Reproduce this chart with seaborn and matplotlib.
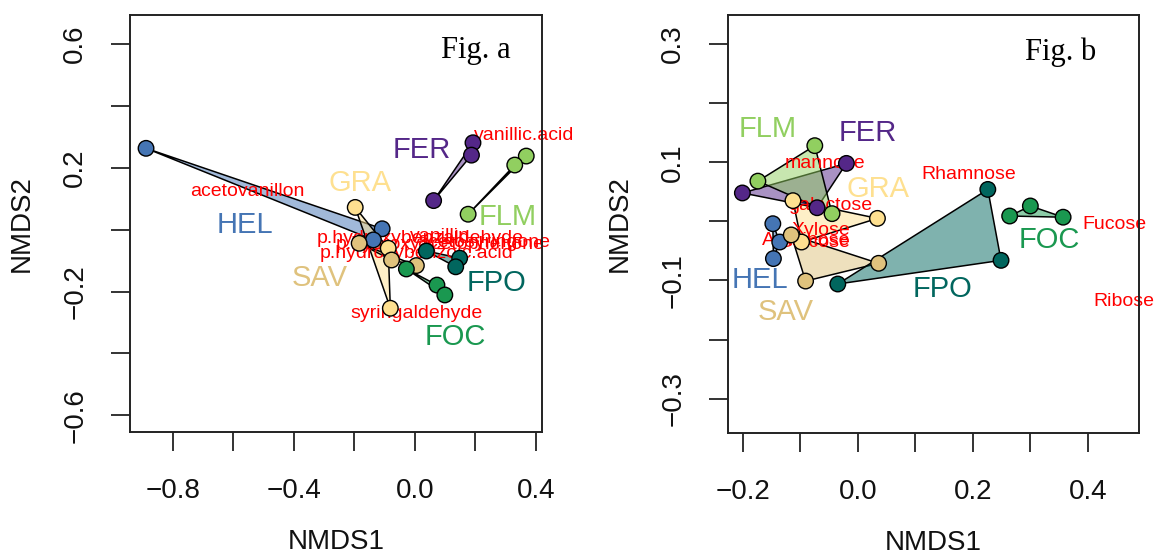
import matplotlib
matplotlib.use('Agg')
import matplotlib.pyplot as plt
import matplotlib.colors as mcolors
import pandas as pd
import seaborn as sns

# group colours
palette = {'HEL': '#4575B4', 'GRA': '#FEE090', 'SAV': '#DFC27D', 'FER': '#542788',
           'FLM': '#91CF60', 'FPO': '#01665E', 'FOC': '#1A9850'}

# Fig. a - site scores (3 per group)
a_group = ['HEL'] * 3 + ['GRA'] * 3 + ['SAV'] * 3 + ['FER'] * 3 + ['FLM'] * 3 + ['FPO'] * 3 + ['FOC'] * 3
a_x = [-0.888, -0.108, -0.137,
       -0.197, -0.088, -0.081,
       -0.184, -0.077, 0.005,
       0.192, 0.187, 0.062,
       0.368, 0.330, 0.176,
       0.038, 0.148, 0.135,
       -0.028, 0.073, 0.099]
a_y = [0.263, 0.003, -0.033,
       0.072, -0.060, -0.254,
       -0.044, -0.098, -0.116,
       0.281, 0.241, 0.094,
       0.238, 0.209, 0.050,
       -0.069, -0.092, -0.120,
       -0.127, -0.179, -0.211]

# Fig. a - group label positions
a_lab = ['FER', 'GRA', 'HEL', 'FLM', 'SAV', 'FPO', 'FOC']
a_lab_x = [0.022, -0.182, -0.561, 0.308, -0.314, 0.269, 0.132]
a_lab_y = [0.258, 0.150, 0.015, 0.042, -0.157, -0.173, -0.346]

# Fig. a - compound labels
a_var = ['vanillic.acid', 'acetovanillon', 'syringaldehyde', 'p.hydroxybenzaldehyde',
         'vanillin', 'p.hydroxyacetophenone', 'acetosyringone', 'p.hydroxybenzoic.acid']
a_var_x = [0.361, -0.555, 0.007, 0.017, 0.083, 0.083, 0.228, 0.005]
a_var_y = [0.306, 0.125, -0.270, -0.028, -0.022, -0.049, -0.043, -0.076]

# Fig. b - site scores
b_group = a_group
b_x = [-0.148, -0.136, -0.147,
       -0.113, 0.034, -0.098,
       -0.116, 0.036, -0.091,
       -0.020, -0.201, -0.071,
       -0.075, -0.174, -0.045,
       0.226, 0.249, -0.035,
       0.264, 0.300, 0.357]
b_y = [-0.004, -0.035, -0.063,
       0.035, 0.005, -0.035,
       -0.023, -0.071, -0.101,
       0.098, 0.048, 0.023,
       0.128, 0.068, 0.013,
       0.054, -0.066, -0.106,
       0.009, 0.026, 0.007]

b_lab = ['FLM', 'FER', 'GRA', 'HEL', 'SAV', 'FPO', 'FOC']
b_lab_x = [-0.157, 0.017, 0.035, -0.171, -0.125, 0.148, 0.333]
b_lab_y = [0.157, 0.149, 0.054, -0.100, -0.153, -0.114, -0.032]

b_var = ['mannose', 'Rhamnose', 'galactose', 'Xylose', 'Arabinose', 'Glucose', 'Fucose', 'Ribose']
b_var_x = [-0.058, 0.193, -0.049, -0.064, -0.090, -0.076, 0.446, 0.462]
b_var_y = [0.098, 0.080, 0.026, -0.016, -0.032, -0.035, -0.005, -0.135]

sns.set_style('ticks')
plt.rcParams['font.family'] = ['Liberation Sans', 'DejaVu Sans']


def draw_panel(ax, groups, xs, ys, labs, lab_x, lab_y, vars_, var_x, var_y,
               xlim, ylim, xticks, xticklabels, yticks, yticklabels, tag, tag_pos):
    df = pd.DataFrame({'group': groups, 'x': xs, 'y': ys})

    # hulls
    for g, sub in df.groupby('group', sort=False):
        ax.fill(sub['x'], sub['y'], facecolor=mcolors.to_rgba(palette[g], 0.5),
                edgecolor='black', linewidth=1.1, zorder=1)

    # compound labels
    for t, x, y in zip(vars_, var_x, var_y):
        ax.text(x, y, t, color='red', fontsize=14, ha='center', va='center',
                zorder=2, clip_on=False)

    sns.scatterplot(data=df, x='x', y='y', hue='group', palette=palette, s=125,
                    edgecolor='black', linewidth=1.0, legend=False, ax=ax, zorder=3)

    for t, x, y in zip(labs, lab_x, lab_y):
        ax.text(x, y, t, color=palette[t], fontsize=21, ha='center', va='center', zorder=4)

    ax.set_xlim(xlim)
    ax.set_ylim(ylim)
    ax.set_xticks(xticks)
    ax.set_xticklabels(xticklabels)
    ax.set_yticks(yticks)
    ax.set_yticklabels(yticklabels, rotation=90, va='center')
    ax.tick_params(axis='both', direction='out', length=14, width=1.4,
                   labelsize=20, color='#333333', labelcolor='#111111')
    ax.tick_params(axis='x', pad=19)
    ax.tick_params(axis='y', pad=16)
    for s in ax.spines.values():
        s.set_visible(True)
        s.set_linewidth(1.4)
        s.set_color('#222222')

    ax.set_xlabel('NMDS1', fontsize=20, color='#111111')
    ax.set_ylabel('NMDS2', fontsize=20, color='#111111')
    ax.xaxis.set_label_coords(0.5, -0.232)
    ax.yaxis.set_label_coords(-0.232, 0.5)

    ax.text(tag_pos[0], tag_pos[1], tag, transform=ax.transAxes, fontsize=22,
            family='Liberation Serif', ha='center', va='center', color='black')


fig = plt.figure(figsize=(11.61, 5.55), dpi=100)
ax1 = fig.add_axes([130 / 1161, 123 / 555, 412 / 1161, 417 / 555])
ax2 = fig.add_axes([728 / 1161, 122 / 555, 411 / 1161, 418 / 555])

draw_panel(ax1, a_group, a_x, a_y, a_lab, a_lab_x, a_lab_y, a_var, a_var_x, a_var_y,
           (-0.941, 0.420), (-0.654, 0.694),
           [-0.8, -0.6, -0.4, -0.2, 0.0, 0.2, 0.4], ['−0.8', '', '−0.4', '', '0.0', '', '0.4'],
           [-0.6, -0.4, -0.2, 0.0, 0.2, 0.4, 0.6], ['−0.6', '', '−0.2', '', '0.2', '', '0.6'],
           'Fig. a', (0.84, 0.915))

draw_panel(ax2, b_group, b_x, b_y, b_lab, b_lab_x, b_lab_y, b_var, b_var_x, b_var_y,
           (-0.226, 0.489), (-0.358, 0.349),
           [-0.2, -0.1, 0.0, 0.1, 0.2, 0.3, 0.4], ['−0.2', '', '0.0', '', '0.2', '', '0.4'],
           [-0.3, -0.2, -0.1, 0.0, 0.1, 0.2, 0.3], ['−0.3', '', '−0.1', '', '0.1', '', '0.3'],
           'Fig. b', (0.81, 0.912))

fig.savefig('out.png', dpi=100)
